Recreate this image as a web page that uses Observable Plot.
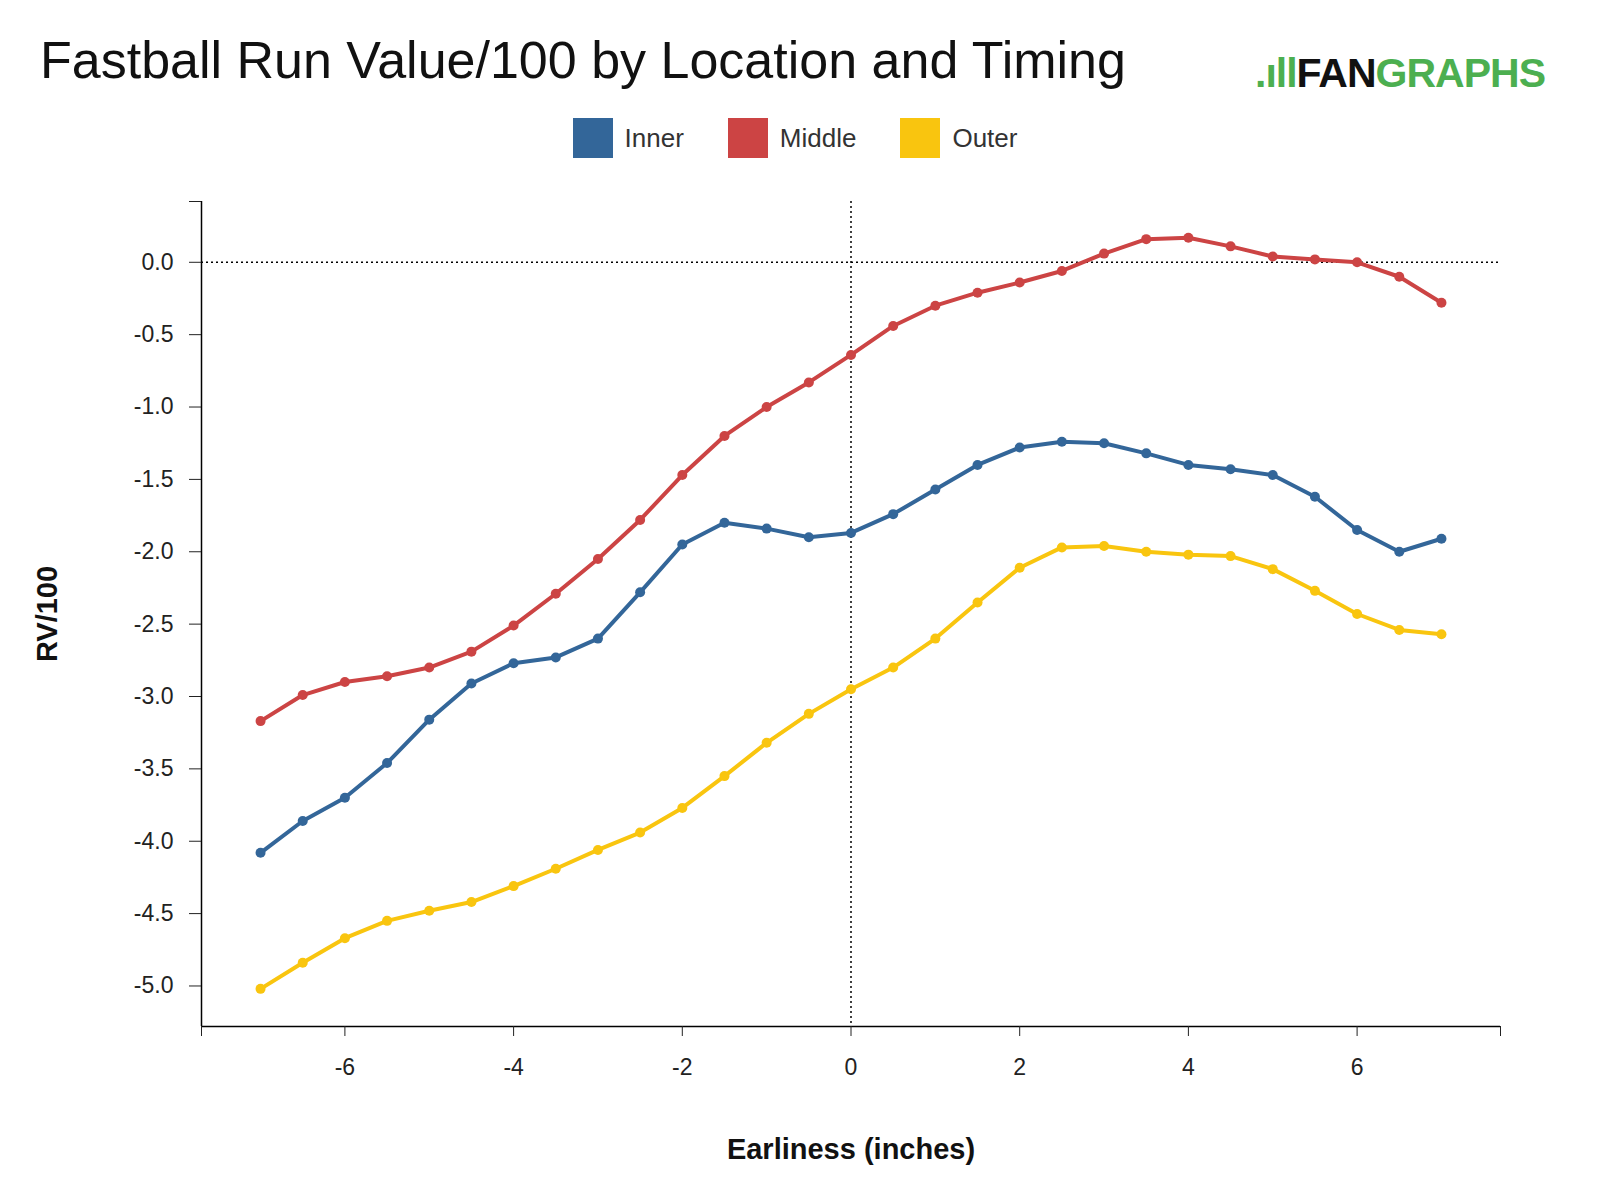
<!DOCTYPE html>
<html><head><meta charset="utf-8">
<script src="https://cdn.jsdelivr.net/npm/d3@7"></script>
<script src="https://cdn.jsdelivr.net/npm/@observablehq/plot@0.6"></script>
<style>
body{margin:0;background:#fff;font-family:"Liberation Sans",Arial,sans-serif;}
#wrap{position:relative;width:1600px;height:1200px;}
#title{position:absolute;left:40px;top:30px;font-size:52px;color:#111;}
#logo{position:absolute;left:1255px;top:50px;font-size:41px;font-weight:bold;letter-spacing:-1px;}
#legend{position:absolute;top:118px;left:0;width:1590px;display:flex;justify-content:center;font-size:26px;color:#333;}
.li{display:flex;align-items:center;margin:0 22px;}
.sw{width:40px;height:40px;margin-right:12px;display:inline-block;}
#chart{position:absolute;left:0;top:160px;}
</style></head><body>
<div id="wrap">
<div id="title">Fastball Run Value/100 by Location and Timing</div>
<div id="logo"><span style="color:#4caf50">.ıll</span><span style="color:#111">FAN</span><span style="color:#4caf50">GRAPHS</span></div>
<div id="legend"></div>
<div id="chart"></div>
</div>
<script>
const earliness = [-7,-6.5,-6,-5.5,-5,-4.5,-4,-3.5,-3,-2.5,-2,-1.5,-1,-0.5,0,0.5,1,1.5,2,2.5,3,3.5,4,4.5,5,5.5,6,6.5,7];
const inner = [-4.08,-3.86,-3.70,-3.46,-3.16,-2.91,-2.77,-2.73,-2.60,-2.28,-1.95,-1.80,-1.84,-1.90,-1.87,-1.74,-1.57,-1.40,-1.28,-1.24,-1.25,-1.32,-1.40,-1.43,-1.47,-1.62,-1.85,-2.00,-1.91];
const middle = [-3.17,-2.99,-2.90,-2.86,-2.80,-2.69,-2.51,-2.29,-2.05,-1.78,-1.47,-1.20,-1.00,-0.83,-0.64,-0.44,-0.30,-0.21,-0.14,-0.06,0.06,0.16,0.17,0.11,0.04,0.02,0.00,-0.10,-0.28];
const outer = [-5.02,-4.84,-4.67,-4.55,-4.48,-4.42,-4.31,-4.19,-4.06,-3.94,-3.77,-3.55,-3.32,-3.12,-2.95,-2.80,-2.60,-2.35,-2.11,-1.97,-1.96,-2.00,-2.02,-2.03,-2.12,-2.27,-2.43,-2.54,-2.57];
const seriesNames = ["Inner","Middle","Outer"];
const colors = ["#336699","#cc4444","#f9c50f"];
const xTicks = [-6,-4,-2,0,2,4,6];
const yTicks = [0,-0.5,-1,-1.5,-2,-2.5,-3,-3.5,-4,-4.5,-5];
const xDomain = [-7.7,7.7], yDomain = [-5.28,0.42];

const vals = [inner, middle, outer];
const data = [];
seriesNames.forEach((s,i)=>earliness.forEach((x,j)=>data.push({s, x, y: vals[i][j]})));

const leg = document.getElementById("legend");
seriesNames.forEach((s,i)=>{
  const d=document.createElement("div");d.className="li";
  d.innerHTML=`<span class="sw" style="background:${colors[i]}"></span>${s}`;
  leg.appendChild(d);
});

const plot = Plot.plot({
  width:1600, height:1040,
  marginTop:41, marginBottom:174, marginLeft:201, marginRight:100,
  style:{fontFamily:"Liberation Sans, Arial, sans-serif", fontSize:"22px", color:"#222", background:"#fff"},
  x:{domain:xDomain},
  y:{domain:yDomain},
  color:{domain:seriesNames, range:colors},
  marks:[
    Plot.ruleY([0],{stroke:"#000",strokeDasharray:"2,3",strokeWidth:1.5}),
    Plot.ruleX([0],{stroke:"#000",strokeDasharray:"2,3",strokeWidth:1.5}),
    Plot.ruleX([xDomain[0]],{stroke:"#000",strokeWidth:1.5}),
    Plot.ruleY([yDomain[0]],{stroke:"#000",strokeWidth:1.5}),
    Plot.axisX({ticks:[xDomain[0],...xTicks,xDomain[1]], tickSize:10, tickPadding:22, tickFormat:d=>xTicks.includes(d)?String(d):"", label:null, fontSize:23}),
    Plot.axisY({ticks:[...yTicks,yDomain[1]], tickSize:12, tickPadding:16, tickFormat:d=>yTicks.includes(d)?d.toFixed(1):"", label:null, fontSize:23}),
    Plot.line(data,{x:"x",y:"y",stroke:"s",strokeWidth:4}),
    Plot.dot(data,{x:"x",y:"y",fill:"s",r:5}),
    Plot.text(["Earliness (inches)"],{frameAnchor:"bottom",dy:132,fontSize:29,fontWeight:"bold",fill:"#111"}),
    Plot.text(["RV/100"],{frameAnchor:"left",textAnchor:"middle",dx:-154,rotate:-90,fontSize:29,fontWeight:"bold",fill:"#111"})
  ]
});
document.getElementById("chart").appendChild(plot);
</script>
</body></html>
